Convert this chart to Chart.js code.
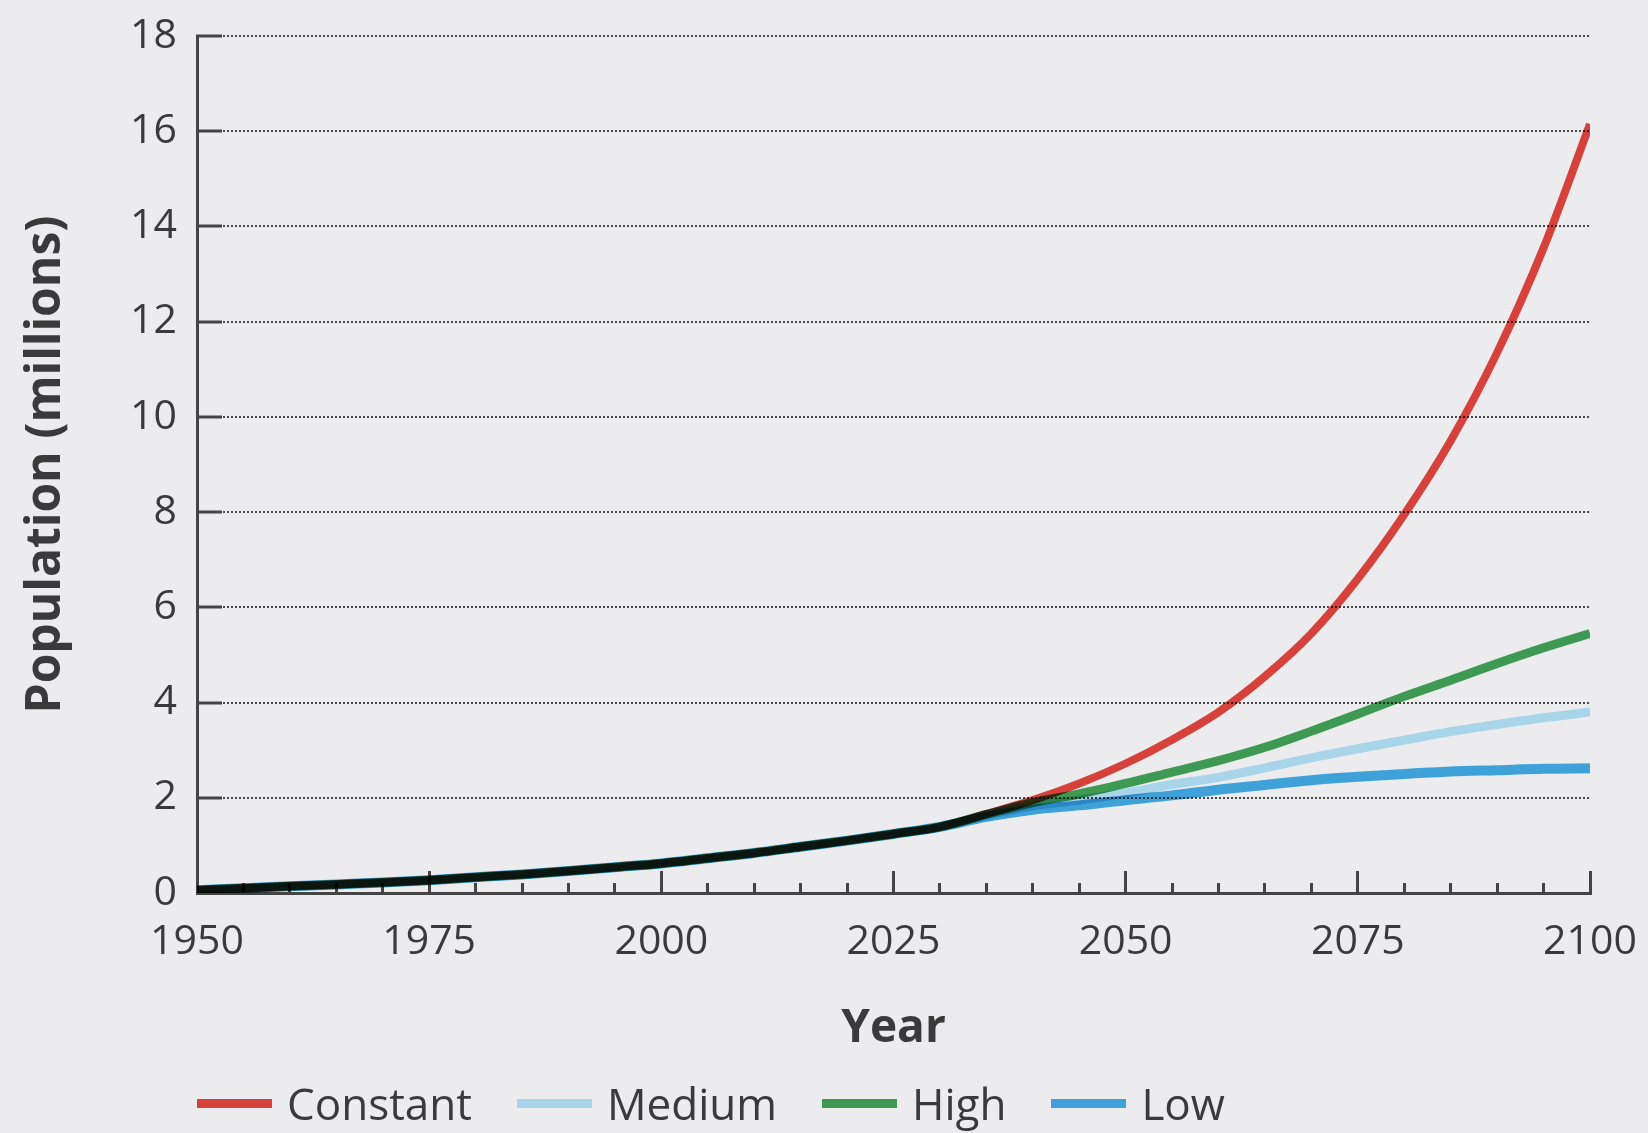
<!DOCTYPE html>
<html>
<head>
<meta charset="utf-8">
<script src="https://cdn.jsdelivr.net/npm/chart.js@4"></script>
<style>
  html, body { margin: 0; padding: 0; background: #ececee; }
  #wrap { position: relative; width: 1648px; height: 1133px; }
  #chart { position: absolute; left: 0; top: 0; }
  #legend {
    position: absolute; left: 197px; top: 1075px; height: 56px;
    display: flex; align-items: center;
    font-family: "Open Sans", sans-serif; font-size: 44px; color: #3a3a3a;
  }
  .item { display: flex; align-items: center; margin-right: 45px; }
  .swatch { width: 75px; height: 9px; margin-right: 15px; }
</style>
</head>
<body>
<div id="wrap">
  <canvas id="chart" width="1648" height="1133"></canvas>
  <div id="legend"></div>
</div>
<script>
const years = [1950, 1955, 1960, 1965, 1970, 1975, 1980, 1985, 1990, 1995, 2000, 2005, 2010, 2015, 2020, 2025,
  2030, 2035, 2040, 2045, 2050, 2055, 2060, 2065, 2070, 2075, 2080, 2085, 2090, 2095, 2100];

const constant = [0.06, 0.1, 0.14, 0.18, 0.22, 0.27, 0.33, 0.39, 0.46, 0.54, 0.62, 0.73, 0.84, 0.97, 1.1, 1.24,
  1.39, 1.66, 1.95, 2.3, 2.72, 3.22, 3.8, 4.55, 5.45, 6.6, 7.95, 9.5, 11.35, 13.55, 16.15];
const medium = [0.06, 0.1, 0.14, 0.18, 0.22, 0.27, 0.33, 0.39, 0.46, 0.54, 0.62, 0.73, 0.84, 0.97, 1.1, 1.24,
  1.39, 1.63, 1.83, 1.95, 2.1, 2.28, 2.43, 2.63, 2.84, 3.03, 3.21, 3.39, 3.54, 3.68, 3.8];
const high = [0.06, 0.1, 0.14, 0.18, 0.22, 0.27, 0.33, 0.39, 0.46, 0.54, 0.62, 0.73, 0.84, 0.97, 1.1, 1.24,
  1.39, 1.65, 1.9, 2.08, 2.3, 2.54, 2.78, 3.06, 3.4, 3.76, 4.13, 4.47, 4.82, 5.15, 5.45];
const low = [0.06, 0.1, 0.14, 0.18, 0.22, 0.27, 0.33, 0.39, 0.46, 0.54, 0.62, 0.73, 0.84, 0.97, 1.1, 1.24,
  1.39, 1.6, 1.75, 1.84, 1.95, 2.05, 2.17, 2.27, 2.37, 2.44, 2.5, 2.55, 2.58, 2.61, 2.62];

const seriesNames = ["Constant", "Medium", "High", "Low"];
const seriesColors = ["#d6423b", "#a9d5ea", "#3e9a52", "#3ea2d9"];
const seriesWidths = [8, 9, 9, 10];
const seriesValues = [constant, medium, high, low];

const yTicks = [0, 2, 4, 6, 8, 10, 12, 14, 16, 18];

const ink = "#3a3a3a";

// overlapping lines darken each other like printed ink
const multiplyLines = {
  id: "multiplyLines",
  beforeDatasetsDraw(chart) {
    chart.ctx.save();
    chart.ctx.globalCompositeOperation = "multiply";
  },
  afterDatasetsDraw(chart) {
    chart.ctx.restore();
  },
};

const chart = new Chart(document.getElementById("chart"), {
  type: "line",
  data: {
    datasets: seriesNames.map((name, i) => ({
      label: name,
      data: years.map((yr, j) => ({ x: yr, y: seriesValues[i][j] })),
      borderColor: seriesColors[i],
      backgroundColor: seriesColors[i],
      borderWidth: seriesWidths[i],
      pointRadius: 0,
      cubicInterpolationMode: "monotone",
      borderCapStyle: "butt",
    })),
  },
  options: {
    responsive: false,
    devicePixelRatio: 1,
    animation: false,
    layout: { padding: { left: 0, right: 58, top: 36, bottom: 73 } },
    plugins: {
      legend: { display: false },
      tooltip: { enabled: false },
    },
    scales: {
      x: {
        type: "linear",
        min: 1950,
        max: 2100,
        afterFit: (s) => {
          s.height = 167;
          s.paddingLeft = 0;
          s.paddingRight = 0;
        },
        ticks: {
          stepSize: 5,
          autoSkip: false,
          maxRotation: 0,
          padding: 47,
          color: ink,
          font: { family: "Open Sans", size: 41 },
          callback: (v) => (v % 25 === 0 ? String(v) : ""),
        },
        grid: {
          drawOnChartArea: false,
          tickLength: -22,
          tickWidth: 3,
          tickColor: "#444",
          tickBorderDash: (ctx) => (ctx.tick && ctx.tick.value % 25 !== 0 ? [12, 40] : []),
        },
        border: { color: "#444", width: 3 },
        title: {
          display: true,
          text: "Year",
          color: ink,
          font: { family: "Open Sans", size: 46, weight: "bold", lineHeight: 1.2 },
          padding: { top: 0, bottom: 4 },
        },
      },
      y: {
        min: 0,
        max: 18,
        afterFit: (s) => {
          s.width = 197;
          s.paddingTop = 0;
          s.paddingBottom = 0;
        },
        afterBuildTicks: (s) => { s.ticks = yTicks.map((v) => ({ value: v })); },
        ticks: {
          padding: 45,
          color: ink,
          font: { family: "Open Sans", size: 41 },
        },
        grid: {
          color: "#4a4a4a",
          lineWidth: 2,
          tickLength: -25,
          tickWidth: 3,
          tickColor: "#444",
          tickBorderDash: [],
        },
        border: { color: "#444", width: 3, dash: [2, 2] },
        title: {
          display: true,
          text: "Population (millions)",
          color: ink,
          font: { family: "Open Sans", size: 48, weight: "bold", lineHeight: 1.2 },
          padding: { top: 18, bottom: 0 },
        },
      },
    },
  },
  plugins: [multiplyLines],
});

// legend built from the chart's own datasets
const legendEl = document.getElementById("legend");
chart.data.datasets.forEach((ds) => {
  const item = document.createElement("div");
  item.className = "item";
  const sw = document.createElement("span");
  sw.className = "swatch";
  sw.style.background = ds.borderColor;
  const tx = document.createElement("span");
  tx.textContent = ds.label;
  item.appendChild(sw);
  item.appendChild(tx);
  legendEl.appendChild(item);
});
</script>
</body>
</html>
